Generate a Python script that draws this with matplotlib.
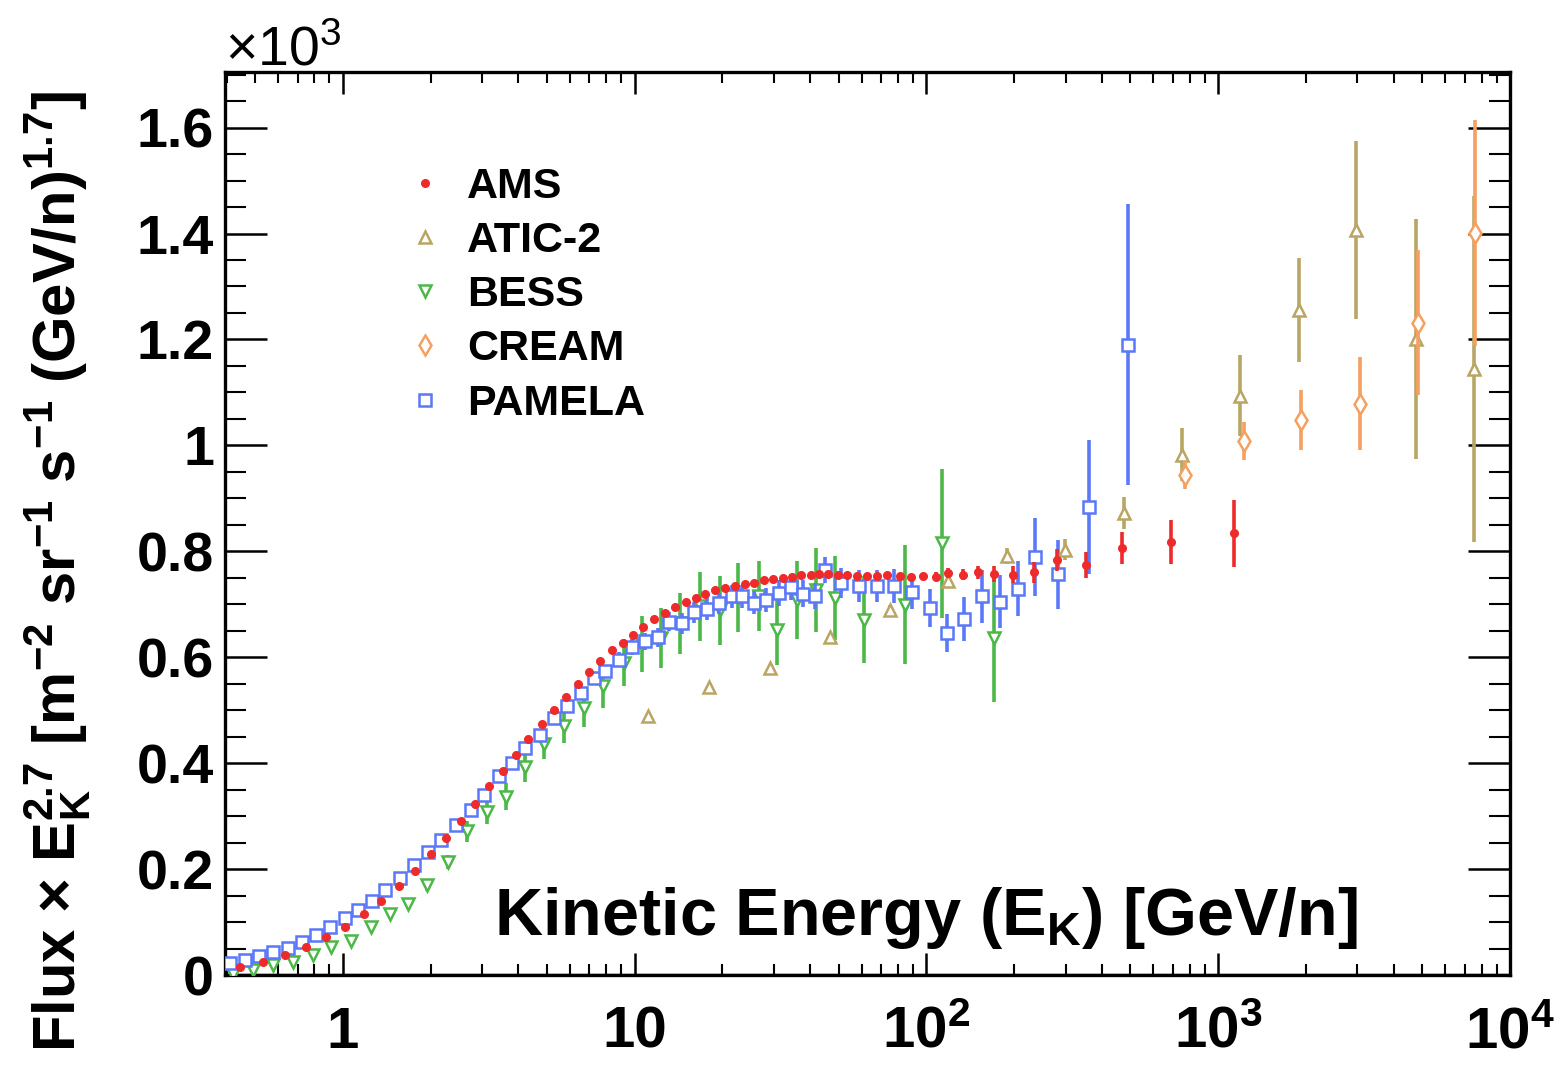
import numpy as np
import matplotlib
matplotlib.use("Agg")
import matplotlib.pyplot as plt
from matplotlib import font_manager as fm
from matplotlib.lines import Line2D
from matplotlib.ticker import FixedLocator, LogLocator, NullFormatter, MultipleLocator

# ---------------- data ----------------
ams_e = [0.445, 0.532, 0.634, 0.748, 0.875, 1.016, 1.18, 1.355, 1.553, 1.77, 2.01, 2.26, 2.54,
         2.84, 3.18, 3.54, 3.92, 4.32, 4.80, 5.29, 5.80, 6.38, 6.96, 7.63, 8.37, 9.12, 9.88,
         10.7, 11.7, 12.7, 13.8, 15.0, 16.2, 17.5, 18.9, 20.4, 22.1, 23.9, 25.7, 27.7, 29.8,
         32.3, 34.7, 37.2, 40.1, 43.0, 46.2, 49.7, 53.5, 57.8, 62.5, 67.7, 73.5, 81.2, 88.4,
         97.4, 108, 119, 134, 150, 171, 198, 233, 280, 352, 467, 691, 1130]
ams_v = [0.016, 0.025, 0.038, 0.053, 0.071, 0.090, 0.115, 0.140, 0.168, 0.197, 0.228, 0.258, 0.290,
         0.323, 0.356, 0.385, 0.416, 0.445, 0.474, 0.501, 0.525, 0.549, 0.572, 0.592, 0.613, 0.627, 0.642,
         0.657, 0.672, 0.684, 0.694, 0.705, 0.712, 0.719, 0.726, 0.730, 0.735, 0.738, 0.741, 0.745, 0.747,
         0.749, 0.752, 0.756, 0.756, 0.757, 0.757, 0.756, 0.755, 0.754, 0.754, 0.754, 0.755, 0.754, 0.752,
         0.754, 0.752, 0.759, 0.756, 0.760, 0.757, 0.756, 0.760, 0.784, 0.774, 0.806, 0.818, 0.834]
ams_err = [0.003] * 56 + [0.008, 0.010, 0.010, 0.013, 0.015, 0.016, 0.019, 0.021, 0.025, 0.030, 0.042, 0.063]

atic_e = [11.1, 18.0, 29.1, 46.7, 74.8, 119, 189, 299, 476, 754, 1191, 1897, 2978, 4745, 7540]
atic_v = [0.489, 0.544, 0.580, 0.638, 0.689, 0.743, 0.791, 0.803, 0.872, 0.982, 1.094, 1.255, 1.406, 1.201, 1.144]
atic_err = [0.005, 0.005, 0.006, 0.008, 0.010, 0.012, 0.015, 0.020, 0.030, 0.050, 0.076, 0.098, 0.168, 0.226, 0.327]

bess_e = [0.422, 0.494, 0.578, 0.676, 0.788, 0.915, 1.07, 1.25, 1.45, 1.68, 1.95, 2.29, 2.66, 3.11,
          3.64, 4.21, 4.89, 5.72, 6.70, 7.78, 9.17, 10.6, 12.3, 14.3, 16.8, 19.6, 22.6, 26.7, 30.8,
          36.1, 41.9, 48.7, 61.0, 84.4, 113, 170]
bess_v = [0.002, 0.009, 0.019, 0.025, 0.038, 0.052, 0.065, 0.091, 0.115, 0.135, 0.170, 0.214, 0.271, 0.308,
          0.337, 0.393, 0.437, 0.470, 0.504, 0.545, 0.590, 0.625, 0.636, 0.664, 0.696, 0.689, 0.712, 0.715, 0.652,
          0.708, 0.727, 0.712, 0.671, 0.699, 0.815, 0.636]
bess_err = [0.003, 0.003, 0.004, 0.004, 0.005, 0.006, 0.007, 0.008, 0.009, 0.010, 0.011, 0.013, 0.020, 0.022,
            0.025, 0.028, 0.030, 0.032, 0.035, 0.040, 0.045, 0.052, 0.057, 0.058, 0.065, 0.065, 0.065, 0.066, 0.066,
            0.074, 0.080, 0.080, 0.082, 0.112, 0.140, 0.120]

cream_e = [768, 1224, 1920, 3060, 4840, 7600]
cream_v = [0.944, 1.009, 1.048, 1.079, 1.232, 1.401]
cream_err = [0.027, 0.036, 0.057, 0.087, 0.137, 0.214]

pam_e = [0.411, 0.461, 0.516, 0.577, 0.647, 0.724, 0.811, 0.907, 1.016, 1.13, 1.26, 1.40, 1.57, 1.75,
         1.96, 2.17, 2.44, 2.75, 3.05, 3.44, 3.81, 4.23, 4.76, 5.29, 5.88, 6.53, 7.25, 7.94, 8.82, 9.79,
         10.9, 12.0, 13.1, 14.5, 16.0, 17.7, 19.4, 21.5, 23.4, 25.7, 28.3, 31.3, 34.5, 37.9, 41.4, 45.1,
         51.0, 58.9, 67.7, 77.7, 89.6, 103, 118, 135, 155, 179, 206, 236, 282, 360, 492]
pam_v = [0.022, 0.028, 0.035, 0.043, 0.051, 0.062, 0.075, 0.090, 0.107, 0.123, 0.140, 0.161, 0.183, 0.207,
         0.232, 0.255, 0.283, 0.312, 0.340, 0.375, 0.400, 0.428, 0.453, 0.485, 0.507, 0.532, 0.560, 0.574, 0.595, 0.620,
         0.630, 0.638, 0.667, 0.664, 0.685, 0.691, 0.702, 0.715, 0.715, 0.703, 0.708, 0.721, 0.733, 0.720, 0.716, 0.765,
         0.740, 0.735, 0.735, 0.735, 0.724, 0.693, 0.645, 0.672, 0.715, 0.705, 0.729, 0.789, 0.757, 0.884, 1.190]
pam_err = [0.003] * 26 + [0.010, 0.012, 0.014, 0.015, 0.016, 0.018, 0.018, 0.020, 0.020, 0.020, 0.020, 0.022,
           0.022, 0.022, 0.022, 0.024, 0.024, 0.025, 0.025, 0.025, 0.028, 0.030, 0.030, 0.032, 0.032, 0.036, 0.036,
           0.042, 0.050, 0.050, 0.052, 0.074, 0.065, 0.126, 0.265]

labels = ["AMS", "ATIC-2", "BESS", "CREAM", "PAMELA"]
x_ticks = [1, 10, 100, 1000, 10000]
x_ticklabels = ["1", "10", "$10^{2}$", "$10^{3}$", "$10^{4}$"]
y_ticks = [0, 0.2, 0.4, 0.6, 0.8, 1.0, 1.2, 1.4, 1.6]
y_ticklabels = ["0", "0.2", "0.4", "0.6", "0.8", "1", "1.2", "1.4", "1.6"]

# ---------------- style ----------------
names = {f.name for f in fm.fontManager.ttflist}
NARROW = "Liberation Sans Narrow" if "Liberation Sans Narrow" in names else "Liberation Sans"
plt.rcParams["font.family"] = ["Liberation Sans", "DejaVu Sans"]
plt.rcParams["mathtext.default"] = "regular"

C_AMS = "#ee2a2a"
C_ATIC = "#b9a564"
C_BESS = "#4cb848"
C_CREAM = "#f5a060"
C_PAM = "#5a78f8"

W, H = 1562, 1068
fig = plt.figure(figsize=(W / 100, H / 100), dpi=100)
ax = fig.add_axes([225 / W, 1 - 975 / H, (1510 - 225) / W, (975 - 72) / H])
ax.set_xscale("log")
ax.set_xlim(0.395, 1e4)
ax.set_ylim(0, 1.705)

ax.axhline(0, color="#2a3590", lw=2.5, zorder=1)

elw = 2.6
ax.errorbar(bess_e, bess_v, yerr=bess_err, fmt="v", color=C_BESS, ms=9, mfc="white", mec=C_BESS,
            mew=1.8, elinewidth=elw, capsize=0, zorder=3)
ax.errorbar(pam_e, pam_v, yerr=pam_err, fmt="s", color=C_PAM, ms=9, mfc="white", mec=C_PAM,
            mew=1.8, elinewidth=elw, capsize=0, zorder=4)
ax.errorbar(atic_e, atic_v, yerr=atic_err, fmt="^", color=C_ATIC, ms=9, mfc="white", mec=C_ATIC,
            mew=1.8, elinewidth=elw, capsize=0, zorder=5)
ax.errorbar(cream_e, cream_v, yerr=cream_err, fmt="d", color=C_CREAM, ms=10, mfc="white", mec=C_CREAM,
            mew=1.8, elinewidth=elw, capsize=0, zorder=6)
ax.errorbar(ams_e, ams_v, yerr=ams_err, fmt="o", color=C_AMS, ms=5.5, mfc=C_AMS, mec=C_AMS,
            elinewidth=elw, capsize=0, zorder=7)

# ticks
ax.xaxis.set_major_locator(FixedLocator(x_ticks))
ax.xaxis.set_minor_locator(LogLocator(base=10, subs=np.arange(2, 10)))
ax.xaxis.set_minor_formatter(NullFormatter())
ax.set_xticklabels(x_ticklabels)
ax.yaxis.set_major_locator(FixedLocator(y_ticks))
ax.yaxis.set_minor_locator(MultipleLocator(0.05))
ax.set_yticklabels(y_ticklabels)

ax.tick_params(axis="x", which="major", direction="in", length=16, width=1.8, top=True, pad=22)
ax.tick_params(axis="x", which="minor", direction="in", length=8, width=1.5, top=True)
ax.tick_params(axis="y", which="major", direction="in", length=30, width=1.8, right=True, pad=8)
ax.tick_params(axis="y", which="minor", direction="in", length=15, width=1.5, right=True)
for lab in ax.get_yticklabels():
    lab.set_fontfamily("Liberation Sans")
    lab.set_fontweight("bold")
    lab.set_fontsize(40)
for lab in ax.get_xticklabels():
    lab.set_fontfamily(NARROW)
    lab.set_fontweight("bold")
    lab.set_fontsize(42)
for sp in ax.spines.values():
    sp.set_linewidth(2.4)

# axis titles
fig.text(926 / W, 1 - 935 / H, "Kinetic Energy (E$_{K}$) [GeV/n]", ha="center", va="baseline",
         fontsize=48, fontweight="bold", family=NARROW)
fig.text(58 / W, 1 - 572 / H,
         "Flux × E$_{K}^{2.7}$ [m$^{-2}$ sr$^{-1}$ s$^{-1}$ (GeV/n)$^{1.7}$]",
         rotation=90, ha="center", va="center", fontsize=43, fontweight="bold", family=NARROW)
fig.text(225 / W, 1 - 66 / H, "×10$^{3}$", ha="left", va="baseline", fontsize=40, family="Liberation Sans")

# legend
handles = [
    Line2D([], [], ls="none", marker="o", ms=5.5, color=C_AMS),
    Line2D([], [], ls="none", marker="^", ms=9, color=C_ATIC, mfc="white", mew=1.8),
    Line2D([], [], ls="none", marker="v", ms=9, color=C_BESS, mfc="white", mew=1.8),
    Line2D([], [], ls="none", marker="d", ms=10, color=C_CREAM, mfc="white", mew=1.8),
    Line2D([], [], ls="none", marker="s", ms=9, color=C_PAM, mfc="white", mew=1.8),
]
leg = ax.legend(handles, labels, loc="upper left", bbox_to_anchor=(0.139, 0.895), frameon=False,
                prop={"family": "Liberation Sans", "weight": "bold", "size": 31},
                handlelength=1.0, handletextpad=0.48, labelspacing=0.33, borderaxespad=0, borderpad=0)

fig.savefig("out.png", dpi=100)
